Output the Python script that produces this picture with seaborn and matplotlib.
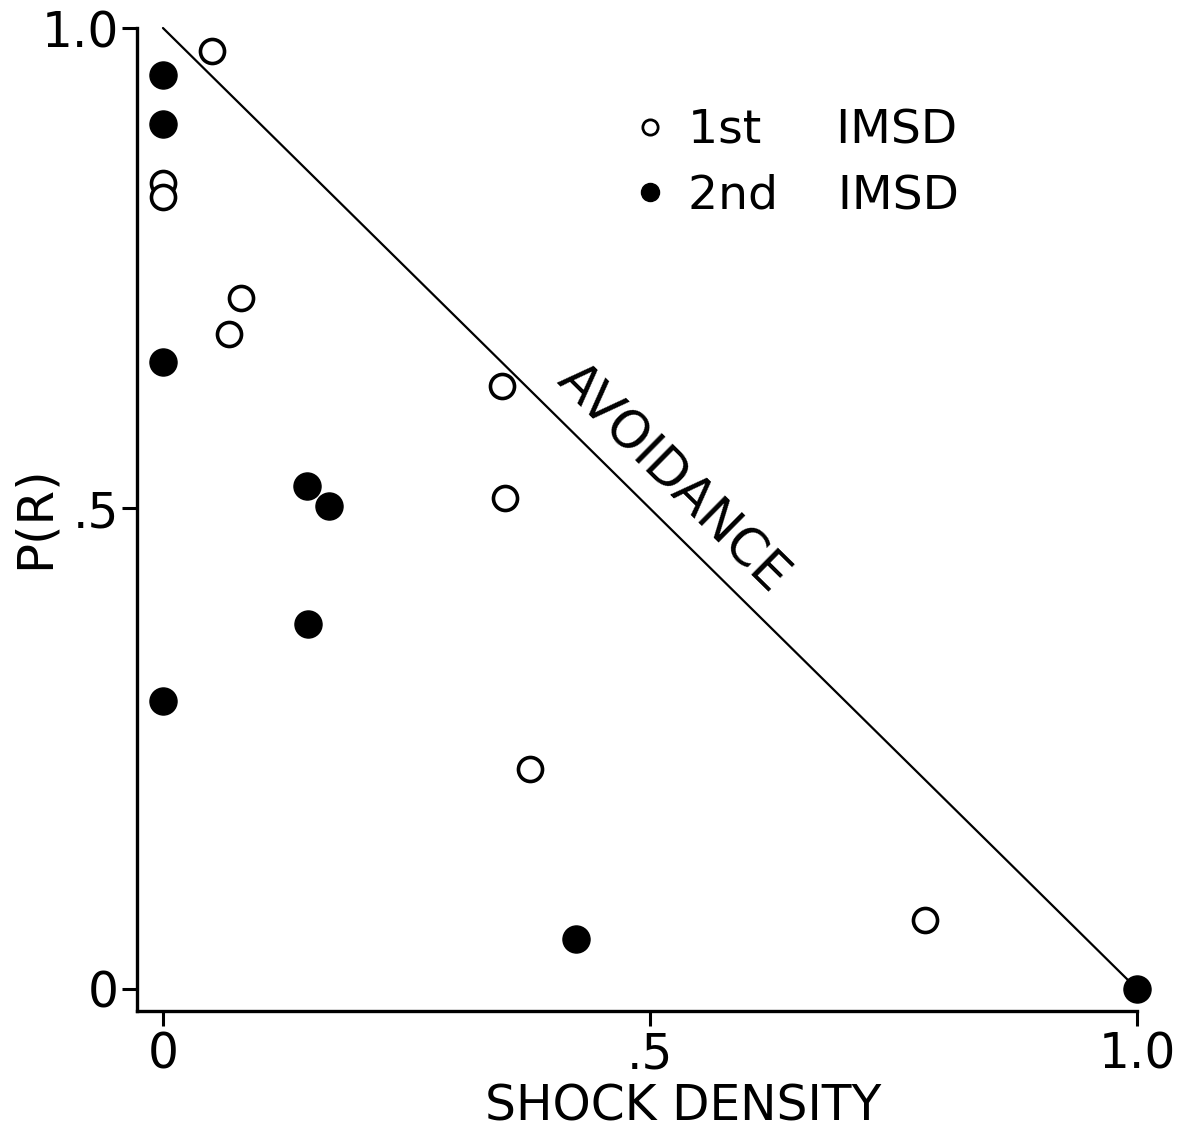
import matplotlib
matplotlib.use("Agg")
import matplotlib.pyplot as plt
from matplotlib.lines import Line2D
import seaborn as sns
import pandas as pd

# Shock density vs. probability of response, first and second IMSD sessions
first_x = [0.050, 0.0, 0.0, 0.080, 0.068, 0.348, 0.351, 0.377, 0.782]
first_y = [0.976, 0.839, 0.824, 0.719, 0.682, 0.627, 0.511, 0.229, 0.072]
second_x = [0.0, 0.0, 0.0, 0.148, 0.170, 0.149, 0.0, 0.424, 1.0]
second_y = [0.951, 0.900, 0.652, 0.523, 0.503, 0.380, 0.300, 0.052, 0.0]

# Avoidance boundary: P(R) = 1 - shock density
line_x = [0.0, 1.0]
line_y = [1.0, 0.0]

tick_vals = [0.0, 0.5, 1.0]
tick_labels = ["0", ".5", "1.0"]

sns.set_theme(style="ticks")
plt.rcParams["font.family"] = ["DejaVu Sans"]
plt.rcParams["text.color"] = "black"

fig = plt.figure(figsize=(11.92, 11.39), dpi=100)
ax = fig.add_axes([0.1149, 0.1124, 0.8390, 0.8630])

df1 = pd.DataFrame({"x": first_x, "y": first_y})
df2 = pd.DataFrame({"x": second_x, "y": second_y})

sns.lineplot(x=line_x, y=line_y, ax=ax, color="black", linewidth=1.6,
             clip_on=False)
sns.scatterplot(data=df1, x="x", y="y", ax=ax, s=300, marker="o",
                facecolor="white", edgecolor="black", linewidth=2.6,
                clip_on=False, zorder=3)
sns.scatterplot(data=df2, x="x", y="y", ax=ax, s=380, marker="o",
                facecolor="black", edgecolor="black", linewidth=1.0,
                clip_on=False, zorder=3)

ax.set_xlim(-0.0267, 1.0)
ax.set_ylim(-0.0229, 1.0)
sns.despine(ax=ax)
for side in ("left", "bottom"):
    ax.spines[side].set_linewidth(2.4)
    ax.spines[side].set_color("black")

ax.set_xticks(tick_vals)
ax.set_xticklabels(tick_labels)
ax.set_yticks(tick_vals)
ax.set_yticklabels(tick_labels)
ax.tick_params(axis="both", direction="out", length=11, width=2.2,
               color="black", labelsize=35, labelcolor="black")
ax.tick_params(axis="x", pad=3)
ax.tick_params(axis="y", pad=2)

ax.set_xlabel("SHOCK DENSITY", fontsize=35, color="black")
ax.xaxis.set_label_coords(0.546, -0.073)
ax.set_ylabel("P(R)", fontsize=36, color="black")
ax.yaxis.set_label_coords(-0.078, 0.502)

ax.text(0.523, 0.531, "AVOIDANCE", rotation=-44.6, rotation_mode="anchor",
        ha="center", va="center", fontsize=37, color="black")

# Legend built from marker handles
handles = [
    Line2D([], [], marker="o", linestyle="none", markersize=11,
           markerfacecolor="white", markeredgecolor="black",
           markeredgewidth=2.0),
    Line2D([], [], marker="o", linestyle="none", markersize=13,
           markerfacecolor="black", markeredgecolor="black"),
]
leg = ax.legend(handles, ["1st     IMSD", "2nd    IMSD"], loc="upper left",
                bbox_to_anchor=(0.447, 0.961), frameon=False, fontsize=34,
                handletextpad=0.3, labelspacing=0.42, handlelength=1.0)
for t in leg.get_texts():
    t.set_color("black")

fig.savefig("out.png", dpi=100, facecolor="white")
